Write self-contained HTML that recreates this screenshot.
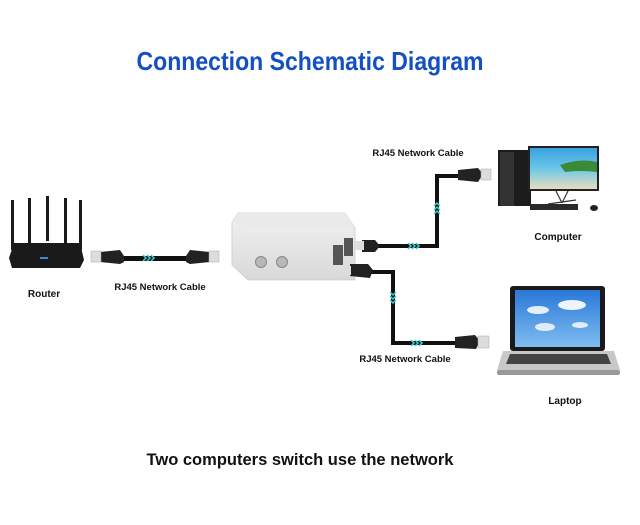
<!DOCTYPE html>
<html><head><style>
html,body{margin:0;padding:0;background:#fff;}
svg{display:block;}
text{font-family:"Liberation Sans",sans-serif;font-weight:bold;}
</style></head><body>
<svg width="640" height="525" viewBox="0 0 640 525" xmlns="http://www.w3.org/2000/svg">
<defs>
<linearGradient id="sky" x1="0" y1="0" x2="0" y2="1"><stop offset="0" stop-color="#2a78d8"/><stop offset="1" stop-color="#7fbdf0"/></linearGradient>
<linearGradient id="beach" x1="0" y1="0" x2="0" y2="1"><stop offset="0" stop-color="#3aa0e0"/><stop offset="0.5" stop-color="#6cc8e8"/><stop offset="1" stop-color="#e8dcc0"/></linearGradient>
<linearGradient id="sw" x1="0" y1="0" x2="0" y2="1"><stop offset="0" stop-color="#f2f2f2"/><stop offset="1" stop-color="#d8d8d8"/></linearGradient>
</defs>
<text x="310" y="70" font-size="26" fill="#1450c0" text-anchor="middle" textLength="347" lengthAdjust="spacingAndGlyphs">Connection Schematic Diagram</text>

<!-- Router -->
<g fill="#1a1a1a">
<rect x="11" y="200" width="3" height="50"/>
<rect x="28" y="198" width="3" height="45"/>
<rect x="46" y="196" width="3" height="45"/>
<rect x="64" y="198" width="3" height="45"/>
<rect x="79" y="200" width="3" height="50"/>
<path d="M14 243 L80 243 L84 260 L80 268 L12 268 L9 258 Z"/>
</g>
<rect x="40" y="257" width="8" height="2" fill="#3a8ad0"/>
<text x="44" y="297" font-size="10" fill="#111" text-anchor="middle">Router</text>

<!-- Cable 1 -->
<rect x="120" y="256" width="70" height="5" fill="#111"/>
<path d="M143 255 l3 3 -3 3 M147 255 l3 3 -3 3 M151 255 l3 3 -3 3" stroke="#3ad0d8" stroke-width="1.5" fill="none"/>
<path d="M100 252 L120 250 L124 256 L124 262 L120 264 L100 262 Z" fill="#222"/>
<rect x="91" y="251" width="10" height="11" fill="#ddd" stroke="#aaa" stroke-width="0.5"/>
<path d="M210 252 L190 250 L186 256 L186 262 L190 264 L210 262 Z" fill="#222"/>
<rect x="209" y="251" width="10" height="11" fill="#ddd" stroke="#aaa" stroke-width="0.5"/>
<text x="160" y="290" font-size="9.5" fill="#111" text-anchor="middle">RJ45 Network Cable</text>

<!-- Switch -->
<path d="M238 213 L345 213 L355 228 L355 280 L248 280 L232 265 L232 222 Z" fill="url(#sw)" stroke="#ccc" stroke-width="0.8"/>
<path d="M238 213 L345 213 L355 228 L248 228 L232 222 Z" fill="#eaeaea"/>
<rect x="333" y="245" width="10" height="20" fill="#555"/>
<rect x="344" y="238" width="9" height="18" fill="#555"/>
<circle cx="261" cy="262" r="5.5" fill="#b8b8b8" stroke="#888"/>
<circle cx="282" cy="262" r="5.5" fill="#b8b8b8" stroke="#888"/>

<!-- Cable 2 -->
<path d="M372 246 L437 246 L437 176 L470 176" stroke="#111" stroke-width="4" fill="none"/>
<path d="M408 243 l3 3 -3 3 M412 243 l3 3 -3 3 M416 243 l3 3 -3 3" stroke="#3ad0d8" stroke-width="1.5" fill="none"/>
<path d="M434 206 l3 -3 3 3 M434 210 l3 -3 3 3 M434 214 l3 -3 3 3" stroke="#3ad0d8" stroke-width="1.5" fill="none"/>
<path d="M362 240 L375 240 L380 246 L375 252 L362 252 Z" fill="#222"/>
<rect x="355" y="241" width="9" height="9" fill="#ddd"/>
<path d="M458 170 L478 168 L483 174 L478 182 L458 180 Z" fill="#222"/>
<rect x="481" y="169" width="10" height="11" fill="#ddd" stroke="#aaa" stroke-width="0.5"/>
<text x="418" y="156" font-size="9.5" fill="#111" text-anchor="middle">RJ45 Network Cable</text>

<!-- Cable 3 -->
<path d="M370 272 L393 272 L393 343 L465 343" stroke="#111" stroke-width="4" fill="none"/>
<path d="M390 292 l3 3 3 -3 M390 296 l3 3 3 -3 M390 300 l3 3 3 -3" stroke="#3ad0d8" stroke-width="1.5" fill="none"/>
<path d="M411 340 l3 3 -3 3 M415 340 l3 3 -3 3 M419 340 l3 3 -3 3" stroke="#3ad0d8" stroke-width="1.5" fill="none"/>
<path d="M350 264 L368 264 L373 270 L370 278 L350 276 Z" fill="#222"/>
<rect x="342" y="266" width="9" height="9" fill="#ddd"/>
<path d="M455 337 L475 335 L480 341 L476 349 L455 348 Z" fill="#222"/>
<rect x="478" y="336" width="11" height="12" fill="#ddd" stroke="#aaa" stroke-width="0.5"/>
<text x="405" y="362" font-size="9.5" fill="#111" text-anchor="middle">RJ45 Network Cable</text>

<!-- Computer -->
<rect x="498" y="150" width="33" height="56" fill="#1c1c1c"/>
<rect x="500" y="152" width="14" height="54" fill="#333"/>
<rect x="528" y="146" width="71" height="45" fill="#222"/>
<rect x="530" y="148" width="67" height="41" fill="url(#beach)"/>
<path d="M560 165 Q580 158 597 162 L597 172 Q580 170 565 172 Z" fill="#3a8a3a"/>
<path d="M556 191 L562 203 M568 191 L562 203 M548 204 L576 200" stroke="#333" stroke-width="1.2"/>
<rect x="530" y="204" width="48" height="6" fill="#2a2a2a"/>
<ellipse cx="594" cy="208" rx="4" ry="3" fill="#222"/>
<text x="558" y="240" font-size="10" fill="#111" text-anchor="middle">Computer</text>

<!-- Laptop -->
<rect x="510" y="286" width="95" height="65" rx="3" fill="#1a1a1a"/>
<rect x="515" y="290" width="85" height="57" fill="url(#sky)"/>
<ellipse cx="572" cy="305" rx="14" ry="5" fill="#fff" opacity="0.9"/>
<ellipse cx="538" cy="310" rx="11" ry="4" fill="#fff" opacity="0.85"/>
<ellipse cx="545" cy="327" rx="10" ry="4" fill="#fff" opacity="0.8"/>
<ellipse cx="580" cy="325" rx="8" ry="3" fill="#fff" opacity="0.8"/>
<path d="M503 351 L614 351 L620 370 L497 370 Z" fill="#c8c8c8"/>
<path d="M510 354 L607 354 L611 364 L506 364 Z" fill="#444"/>
<rect x="497" y="370" width="123" height="5" rx="2" fill="#999"/>
<text x="565" y="404" font-size="10" fill="#111" text-anchor="middle">Laptop</text>

<text x="300" y="465" font-size="16.5" fill="#111" text-anchor="middle" textLength="307" lengthAdjust="spacingAndGlyphs">Two computers switch use the network</text>
</svg>
</body></html>
